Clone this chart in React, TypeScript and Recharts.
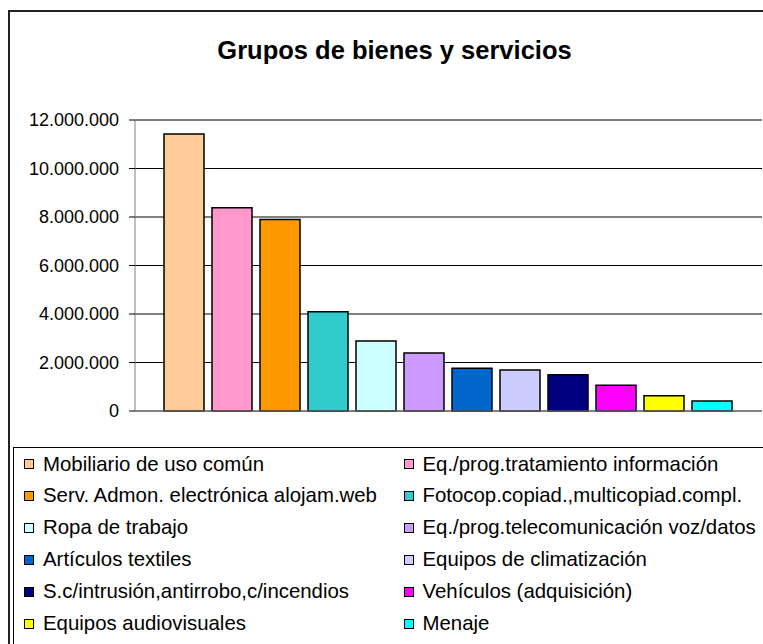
import React from "react";
import { Bar, BarChart, CartesianGrid, XAxis, YAxis } from "recharts";

const FONT = '"Liberation Sans", Arial, sans-serif';

const categories = [
  "Mobiliario de uso común",
  "Eq./prog.tratamiento información",
  "Serv. Admon. electrónica alojam.web",
  "Fotocop.copiad.,multicopiad.compl.",
  "Ropa de trabajo",
  "Eq./prog.telecomunicación voz/datos",
  "Artículos textiles",
  "Equipos de climatización",
  "S.c/intrusión,antirrobo,c/incendios",
  "Vehículos (adquisición)",
  "Equipos audiovisuales",
  "Menaje",
];

const values = [
  11420000, 8380000, 7900000, 4090000, 2890000, 2390000, 1760000, 1690000,
  1490000, 1060000, 630000, 410000,
];

const colors = [
  "#FFCC99", "#FF99CC", "#FF9900", "#33CCCC", "#CCFFFF", "#CC99FF",
  "#0066CC", "#CCCCFF", "#000080", "#FF00FF", "#FFFF00", "#00FFFF",
];

const yTicks = [0, 2000000, 4000000, 6000000, 8000000, 10000000, 12000000];

// one category row, one key per series
const row: Record<string, string | number> = { name: "Grupos" };
values.forEach((v, i) => {
  row[`s${i}`] = v;
});
const data = [row];

function miles(v: number) {
  return String(v).replace(/\B(?=(\d{3})+(?!\d))/g, ".");
}

export default function App() {
  return (
    <div
      style={{
        position: "absolute",
        left: 0,
        top: 0,
        width: 763,
        height: 644,
        background: "#fff",
        overflow: "hidden",
        fontFamily: FONT,
      }}
    >
      {/* outer chart frame, cut at right and bottom */}
      <div
        style={{
          position: "absolute",
          left: 8,
          top: 10,
          width: 800,
          height: 700,
          border: "2px solid #222",
        }}
      />

      <div
        style={{
          position: "absolute",
          left: 0,
          top: 38,
          width: 789,
          textAlign: "center",
          fontSize: 25.5,
          lineHeight: "25.5px",
          fontWeight: "bold",
          color: "#000",
          whiteSpace: "nowrap",
        }}
      >
        Grupos de bienes y servicios
      </div>

      <div style={{ position: "absolute", left: 0, top: 0 }}>
        <BarChart
          width={763}
          height={440}
          data={data}
          margin={{ top: 120, right: 1, bottom: 0, left: 0 }}
          barCategoryGap={29}
          barGap={8}
        >
          <CartesianGrid vertical={false} stroke="#000" strokeWidth={1} />
          <XAxis
            dataKey="name"
            height={29}
            tick={false}
            tickLine={false}
            axisLine={{ stroke: "#808080", strokeWidth: 1 }}
          />
          <YAxis
            width={135}
            domain={[0, 12000000]}
            ticks={yTicks}
            interval={0}
            tickFormatter={(v) => miles(Number(v))}
            tick={{ fill: "#000", fontSize: 18, fontFamily: FONT }}
            tickSize={6}
            tickMargin={10}
            tickLine={{ stroke: "#000" }}
            axisLine={{ stroke: "#808080", strokeWidth: 1 }}
          />
          {categories.map((c, i) => (
            <Bar
              key={c}
              dataKey={`s${i}`}
              name={c}
              fill={colors[i]}
              stroke="#000"
              strokeWidth={1.5}
              isAnimationActive={false}
            />
          ))}
        </BarChart>
      </div>

      {/* legend box */}
      <div
        style={{
          position: "absolute",
          left: 13,
          top: 447,
          width: 800,
          height: 300,
          border: "1px solid #000",
        }}
      />
      <div style={{ position: "absolute", left: 0, top: 448 }}>
        {categories.map((c, i) => (
          <div
            key={c}
            style={{
              position: "absolute",
              left: i % 2 === 0 ? 24 : 403.5,
              top: Math.floor(i / 2) * 31.9,
              height: 32,
              display: "flex",
              alignItems: "center",
              whiteSpace: "nowrap",
              fontSize: 20.4,
              color: "#000",
            }}
          >
            <span
              style={{
                display: "inline-block",
                width: 10,
                height: 10,
                boxSizing: "border-box",
                background: colors[i],
                border: "1.5px solid #000",
                marginRight: 9,
              }}
            />
            <span>{c}</span>
          </div>
        ))}
      </div>
    </div>
  );
}
